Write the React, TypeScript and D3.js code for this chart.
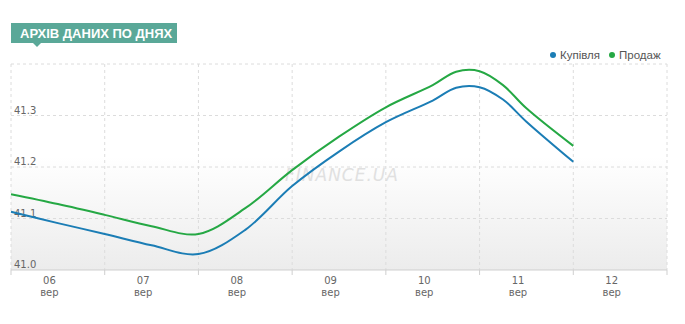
import React from "react";
import * as d3 from "d3";

const dayLabels = ["06", "07", "08", "09", "10", "11", "12"];
const monthLabel = "вер";
const days = [0, 0.5, 1, 1.5, 2, 2.5, 3, 3.5, 4, 4.5, 4.75, 5, 5.25, 5.5, 6];
const buy = [41.113, 41.091, 41.07, 41.048, 41.031, 41.078, 41.163, 41.23, 41.287, 41.329, 41.354, 41.355, 41.331, 41.288, 41.21];
const sell = [41.147, 41.128, 41.107, 41.085, 41.07, 41.12, 41.194, 41.259, 41.316, 41.359, 41.385, 41.386, 41.359, 41.314, 41.241];
const yTicks = [41.0, 41.1, 41.2, 41.3];
const seriesNames = ["Купівля", "Продаж"];
const title = "АРХІВ ДАНИХ ПО ДНЯХ";

const W = 685;
const H = 324;
const left = 11;
const right = 667;
const top = 64;
const bottom = 270;
const BLUE = "#1b7db5";
const GREEN = "#25a844";

export default function App() {
  const x = d3.scaleLinear().domain([0, 7]).range([left, right]);
  const y = d3.scaleLinear().domain([41.0, 41.4]).range([bottom, top]);
  const line = d3
    .line<number>()
    .x((_, i) => x(days[i]))
    .y((d) => y(d))
    .curve(d3.curveCatmullRom.alpha(0.5));
  const gridDays = d3.range(0, 8);
  const hLines = [41.1, 41.2, 41.3, 41.4];
  const axisFont = "'DejaVu Sans', Verdana, sans-serif";
  return (
    <svg width={W} height={H} style={{ position: "absolute", left: 0, top: 0 }} fontFamily="'Liberation Sans', Arial, sans-serif">
      <defs>
        <linearGradient id="bg" x1="0" y1="0" x2="0" y2="1">
          <stop offset="0%" stopColor="#ffffff" />
          <stop offset="45%" stopColor="#ffffff" />
          <stop offset="100%" stopColor="#ececec" />
        </linearGradient>
      </defs>
      <rect x={0} y={0} width={W} height={H} fill="#fff" />
      {/* title badge */}
      <rect x={11} y={23} width={166} height={20} fill="#5aa898" />
      <path d="M33,43 L41,43 L37,47 Z" fill="#5aa898" />
      <text x={20} y={37.5} fill="#fff" fontSize={13} fontWeight="bold">{title}</text>
      {/* legend */}
      <circle cx={553} cy={55} r={3} fill={BLUE} />
      <text x={560} y={59} fontSize={11.5} fill="#555">{seriesNames[0]}</text>
      <circle cx={612} cy={55} r={3} fill={GREEN} />
      <text x={619} y={59} fontSize={11.5} fill="#555">{seriesNames[1]}</text>
      {/* plot bg */}
      <rect x={left} y={top} width={right - left} height={bottom - top} fill="url(#bg)" />
      {hLines.map((v) => (
        <line key={v} x1={left} x2={right} y1={y(v)} y2={y(v)} stroke="#dcdcdc" strokeDasharray="3,3" />
      ))}
      {gridDays.map((d) => (
        <line key={d} x1={x(d)} x2={x(d)} y1={top} y2={bottom} stroke="#dcdcdc" strokeDasharray="3,3" />
      ))}
      <line x1={left} x2={right} y1={bottom} y2={bottom} stroke="#cfcfcf" />
      {gridDays.map((d) => (
        <line key={"t" + d} x1={x(d)} x2={x(d)} y1={bottom} y2={bottom + 5} stroke="#cfcfcf" />
      ))}
      {/* watermark */}
      <text x={285} y={181} fontSize={17} fontStyle="italic" fill="#dadada" opacity={0.8} fontFamily="'DejaVu Sans', sans-serif" letterSpacing={1}>FINANCE.UA</text>
      {/* y labels */}
      {yTicks.map((v) => (
        <text key={v} x={14} y={y(v) - 2} fontSize={10} fill="#666" fontFamily={axisFont}>{v.toFixed(1)}</text>
      ))}
      {/* x labels */}
      {dayLabels.map((l, i) => (
        <g key={l} fontFamily={axisFont} fontSize={10} fill="#666" textAnchor="middle">
          <text x={x(i + 0.41)} y={284}>{l}</text>
          <text x={x(i + 0.41)} y={296}>{monthLabel}</text>
        </g>
      ))}
      <path d={line(sell) || ""} fill="none" stroke={GREEN} strokeWidth={2} />
      <path d={line(buy) || ""} fill="none" stroke={BLUE} strokeWidth={2} />
    </svg>
  );
}
